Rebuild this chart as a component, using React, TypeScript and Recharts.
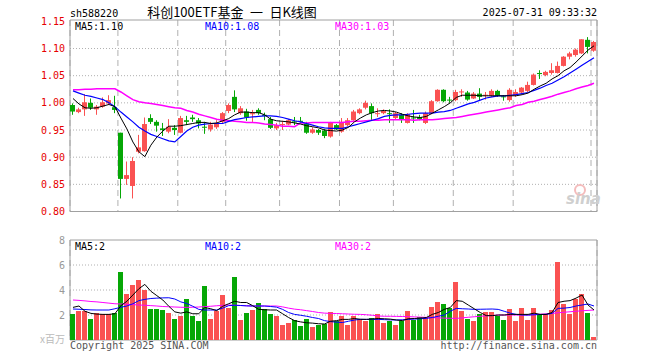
import React from "react";
import {
  ComposedChart,
  Bar,
  Line,
  XAxis,
  YAxis,
  CartesianGrid,
  ReferenceArea,
} from "recharts";

// daily candles, 2025-03-25 .. 2025-07-31 (88 trading days)
const open = [0.996,0.983,0.988,1.000,0.988,0.993,0.999,0.992,0.945,0.860,
  0.847,0.910,0.911,0.972,0.965,0.953,0.947,0.954,0.945,0.968,
  0.973,0.968,0.956,0.951,0.955,0.965,0.985,1.011,0.981,0.984,
  0.979,0.987,0.978,0.970,0.953,0.960,0.960,0.966,0.967,0.962,
  0.945,0.950,0.949,0.938,0.959,0.947,0.959,0.968,0.981,0.991,
  0.994,0.980,0.981,0.981,0.972,0.978,0.963,0.973,0.974,0.963,
  0.981,1.003,1.024,1.006,1.005,1.020,1.019,1.008,1.017,1.014,
  1.013,1.022,1.012,1.005,1.014,1.019,1.022,1.033,1.055,1.051,
  1.055,1.055,1.068,1.085,1.088,1.091,1.116,1.096];
const high = [0.999,0.991,1.016,1.008,0.996,1.010,1.014,1.013,0.945,0.892,
  0.900,0.941,0.973,0.979,0.968,0.963,0.970,0.959,0.976,0.976,
  0.978,0.972,0.965,0.965,0.968,0.983,0.999,1.023,0.994,0.989,
  0.987,0.990,0.982,0.974,0.963,0.967,0.970,0.974,0.974,0.965,
  0.955,0.952,0.952,0.965,0.961,0.972,0.972,0.987,0.990,1.004,
  0.999,0.990,0.988,0.988,0.983,0.981,0.981,0.987,0.978,0.984,
  1.005,1.025,1.025,1.011,1.024,1.025,1.022,1.020,1.027,1.020,
  1.025,1.024,1.014,1.027,1.025,1.029,1.039,1.054,1.060,1.059,
  1.073,1.076,1.086,1.094,1.100,1.117,1.121,1.114];
const low = [0.978,0.981,0.976,0.987,0.978,0.991,0.996,0.981,0.824,0.849,
  0.824,0.907,0.910,0.961,0.947,0.939,0.944,0.941,0.944,0.959,
  0.965,0.953,0.943,0.947,0.952,0.963,0.981,0.983,0.978,0.967,
  0.965,0.978,0.968,0.952,0.950,0.950,0.959,0.959,0.962,0.943,
  0.943,0.941,0.935,0.936,0.950,0.945,0.957,0.967,0.979,0.988,
  0.968,0.974,0.979,0.963,0.970,0.963,0.962,0.963,0.968,0.961,
  0.979,1.002,1.001,1.000,1.003,1.011,1.004,1.007,1.004,1.006,
  1.011,1.011,1.004,1.002,1.011,1.017,1.020,1.032,1.044,1.049,
  1.052,1.054,1.067,1.080,1.085,1.090,1.091,1.094];
const close = [0.984,0.988,1.001,0.991,0.993,1.001,1.005,0.987,0.860,0.867,
  0.893,0.918,0.961,0.965,0.958,0.950,0.956,0.950,0.972,0.965,
  0.970,0.962,0.955,0.960,0.961,0.981,0.996,0.988,0.990,0.973,
  0.981,0.981,0.976,0.954,0.959,0.961,0.968,0.964,0.965,0.945,
  0.951,0.945,0.939,0.963,0.951,0.965,0.968,0.984,0.988,1.000,
  0.981,0.981,0.985,0.980,0.981,0.970,0.979,0.972,0.970,0.981,
  1.003,1.024,1.003,1.005,1.020,1.021,1.006,1.017,1.011,1.015,
  1.022,1.013,1.011,1.024,1.020,1.028,1.033,1.052,1.053,1.057,
  1.060,1.068,1.085,1.091,1.098,1.117,1.103,1.112];

// moving averages as drawn on the chart
const ma5 = [1.008,0.998,0.991,0.990,0.991,0.994,0.997,0.993,0.972,0.952,
  0.928,0.910,0.901,0.922,0.937,0.948,0.957,0.957,0.958,0.960,
  0.962,0.964,0.964,0.962,0.963,0.967,0.971,0.978,0.983,0.983,
  0.982,0.982,0.978,0.970,0.967,0.966,0.965,0.963,0.961,0.958,
  0.956,0.954,0.950,0.949,0.948,0.950,0.955,0.965,0.972,0.978,
  0.982,0.985,0.986,0.985,0.983,0.979,0.976,0.974,0.973,0.975,
  0.981,0.987,0.993,1.000,1.010,1.014,1.014,1.014,1.013,1.013,
  1.013,1.013,1.013,1.013,1.013,1.015,1.018,1.025,1.031,1.036,
  1.044,1.050,1.059,1.065,1.075,1.086,1.097,1.105];
const ma10 = [1.022,1.018,1.014,1.012,1.009,1.006,1.000,0.993,0.983,0.974,
  0.965,0.955,0.948,0.942,0.938,0.934,0.930,0.928,0.938,0.948,
  0.955,0.959,0.961,0.962,0.962,0.962,0.966,0.969,0.971,0.973,
  0.974,0.975,0.976,0.976,0.975,0.973,0.970,0.967,0.965,0.962,
  0.959,0.956,0.954,0.953,0.953,0.953,0.956,0.959,0.962,0.965,
  0.968,0.971,0.975,0.977,0.978,0.978,0.979,0.980,0.981,0.981,
  0.981,0.983,0.984,0.986,0.990,0.994,0.998,1.001,1.005,1.009,
  1.011,1.013,1.013,1.014,1.015,1.017,1.019,1.023,1.027,1.032,
  1.036,1.042,1.048,1.055,1.062,1.069,1.076,1.083];
const ma30 = [1.024,1.024,1.025,1.025,1.026,1.026,1.026,1.026,1.020,1.013,
  1.006,1.002,1.000,0.999,0.997,0.995,0.993,0.991,0.990,0.986,
  0.983,0.979,0.976,0.973,0.970,0.968,0.967,0.966,0.965,0.964,
  0.964,0.963,0.961,0.960,0.959,0.957,0.957,0.956,0.963,0.963,
  0.964,0.964,0.964,0.964,0.964,0.964,0.965,0.966,0.966,0.967,
  0.968,0.968,0.969,0.969,0.969,0.969,0.969,0.968,0.969,0.969,
  0.969,0.970,0.971,0.972,0.973,0.975,0.977,0.979,0.981,0.983,
  0.985,0.987,0.989,0.991,0.995,0.997,1.001,1.003,1.006,1.009,
  1.012,1.016,1.019,1.022,1.026,1.029,1.032,1.036];

// volume, millions of shares
const vol = [2.08,2.32,2.32,1.68,2.16,2.08,2.08,2.16,5.44,3.68,
  4.4,4.8,4.0,2.48,2.48,2.4,2.16,1.68,1.92,3.28,
  1.92,1.52,4.32,1.68,2.32,3.6,2.56,5.04,1.6,2.16,
  2.4,2.96,2.48,2.08,1.92,1.2,1.36,1.6,1.12,1.68,
  1.04,1.2,1.28,2.24,1.52,1.92,1.2,1.92,1.68,1.52,
  1.76,2.08,1.36,1.52,1.2,1.52,2.32,1.6,1.84,1.76,
  2.64,3.04,2.88,2.56,4.64,2.32,1.68,1.52,2.08,2.24,
  2.24,1.92,1.6,2.48,1.52,2.56,1.6,2.56,2.08,2.08,
  2.4,6.24,2.88,2.08,3.28,3.68,2.16,0.24];
const vma5 = [2.61,2.72,2.3,2.13,2.07,2.05,2.05,2.1,2.75,3.1,
  3.6,4.1,4.45,3.9,3.55,3.2,2.7,2.25,2.15,2.25,
  2.1,2.1,2.6,2.5,2.35,2.7,2.9,3.1,3.0,3.0,
  2.75,2.45,2.42,2.4,2.4,2.1,1.8,1.55,1.45,1.38,
  1.35,1.3,1.28,1.5,1.55,1.65,1.65,1.72,1.66,1.65,
  1.68,1.72,1.7,1.67,1.6,1.55,1.7,1.72,1.75,1.8,
  2.05,2.2,2.45,2.6,3.15,3.1,2.8,2.5,2.2,1.95,
  1.95,2.0,2.0,2.05,2.05,2.05,2.05,2.15,2.05,2.05,
  2.2,3.0,3.1,3.15,3.35,3.6,2.8,2.4];
const vma10 = [2.48,2.46,2.44,2.41,2.4,2.4,2.4,2.5,2.62,2.72,
  2.9,3.15,3.25,3.32,3.35,3.37,3.38,3.28,3.05,2.92,
  2.7,2.45,2.4,2.4,2.4,2.55,2.75,2.78,2.76,2.73,
  2.72,2.72,2.72,2.68,2.63,2.45,2.2,2.05,1.98,1.9,
  1.8,1.72,1.55,1.47,1.43,1.4,1.5,1.6,1.65,1.65,
  1.65,1.65,1.63,1.61,1.6,1.62,1.65,1.67,1.7,1.73,
  1.8,1.9,2.0,2.3,2.53,2.5,2.48,2.45,2.46,2.47,
  2.48,2.45,2.3,2.15,2.05,2.0,2.0,2.02,2.04,2.05,
  2.13,2.53,2.55,2.6,2.72,2.8,2.88,2.72];
const vma30 = [3.2,3.17,3.13,3.08,3.05,3.0,2.95,2.9,2.88,2.86,
  2.83,2.8,2.78,2.75,2.72,2.68,2.66,2.64,2.62,2.61,
  2.62,2.64,2.67,2.7,2.74,2.77,2.8,2.78,2.76,2.74,
  2.72,2.72,2.72,2.72,2.72,2.65,2.55,2.47,2.42,2.35,
  2.28,2.2,2.15,2.13,2.12,2.1,2.08,2.06,2.05,2.02,
  1.98,1.92,1.9,1.9,1.89,1.88,1.87,1.85,1.83,1.81,
  1.79,1.77,1.75,1.74,1.73,1.77,1.82,1.86,1.9,1.93,
  1.96,2.0,2.0,2.0,2.0,2.0,2.0,2.03,2.06,2.09,
  2.12,2.18,2.22,2.26,2.3,2.34,2.37,2.4];

const tickIdx = [8, 18, 26, 35, 45, 54, 64, 74, 87];
const tickLabels = ["2025-04-07", "04-21", "05-06", "05-19", "06-03", "06-16", "06-30", "07-14", "07-31"];
const priceTicks = [0.8, 0.85, 0.9, 0.95, 1.0, 1.05, 1.1, 1.15];
const priceGrid = [0.85, 0.9, 0.95, 1.0, 1.05, 1.1];
const volTicks = [2, 4, 6, 8];
const volGrid = [2, 4, 6];
const priceLegend = [["MA5", "1.10"], ["MA10", "1.08"], ["MA30", "1.03"]];
const volLegend = [["MA5", "2"], ["MA10", "2"], ["MA30", "2"]];

const MONO = "'DejaVu Sans Mono', monospace";
const CJK = "'Noto Sans CJK SC', sans-serif";
const RED = "#fa5252";
const GREEN = "#06a706";
const MA_COLORS = ["#000000", "#0000ff", "#ff00ff"];
const GRID = "#b0b0b0";
const BORDER = "#a0a0a0";
const N = close.length;

const rows = close.map((c, i) => ({
  i,
  open: open[i],
  high: high[i],
  low: low[i],
  close: c,
  range: [low[i], high[i]],
  up: c >= open[i],
  ma5: ma5[i],
  ma10: ma10[i],
  ma30: ma30[i],
  vol: vol[i],
  vma5: vma5[i],
  vma10: vma10[i],
  vma30: vma30[i],
}));

function Candle(props: any) {
  const { x, y, width, height, payload } = props;
  if (x == null || !payload) return null;
  const top = Math.min(y, y + height);
  const h = Math.abs(height);
  const k = payload.high > payload.low ? h / (payload.high - payload.low) : 0;
  const color = payload.up ? RED : GREEN;
  const bodyTop = top + (payload.high - Math.max(payload.open, payload.close)) * k;
  const bodyH = Math.max(1, Math.abs(payload.open - payload.close) * k);
  const left = Math.round(x);
  const cx = left + width / 2;
  return (
    <g>
      <line x1={cx} x2={cx} y1={top} y2={top + h} stroke={color} strokeWidth={1} />
      <rect x={left} y={bodyTop} width={width} height={bodyH} fill={color} />
    </g>
  );
}

function VolBar(props: any) {
  const { x, y, width, height, payload } = props;
  if (x == null || !payload) return null;
  return <rect x={Math.round(x)} y={y} width={width} height={Math.max(0, height)} fill={payload.up ? RED : GREEN} />;
}

function DateTick(props: any) {
  const { x, y, payload } = props;
  const k = tickIdx.indexOf(payload.value);
  const last = k === tickIdx.length - 1;
  return (
    <text x={last ? x - 1 : x} y={y + 13} textAnchor={last ? "end" : "middle"} fill="#1a86d0" fontSize={10} fontFamily={MONO}>
      {tickLabels[k]}
    </text>
  );
}

function PriceTick(props: any) {
  const { x, y, payload } = props;
  return (
    <text x={x - 5} y={y + 3.5} textAnchor="end" fill="#e60000" fontSize={10} fontFamily={MONO}>
      {Number(payload.value).toFixed(2)}
    </text>
  );
}

function VolTick(props: any) {
  const { x, y, payload } = props;
  return (
    <text x={x - 5} y={y + 3.5} textAnchor="end" fill="#999999" fontSize={10} fontFamily={MONO}>
      {payload.value}
    </text>
  );
}

function Legend({ items, y }: { items: string[][]; y: number }) {
  const xs = [75, 205, 335];
  return (
    <>
      {items.map((it, k) => (
        <text key={it[0]} x={xs[k]} y={y} fill={MA_COLORS[k]} fontSize={10} fontFamily={MONO}>
          {`${it[0]}:${it[1]}`}
        </text>
      ))}
    </>
  );
}

export default function App() {
  return (
    <div style={{ position: "absolute", left: 0, top: 0, width: 660, height: 360, background: "#fff", overflow: "hidden" }}>
      <div style={{ position: "absolute", left: 0, top: 0 }}>
        <ComposedChart width={660} height={236} data={rows} margin={{ top: 20, right: 63, bottom: 0, left: 0 }}>
          <XAxis xAxisId="cat" dataKey="i" type="category" hide />
          <XAxis
            xAxisId="num"
            dataKey="i"
            type="number"
            domain={[0, N]}
            ticks={tickIdx}
            interval={0}
            allowDataOverflow
            axisLine={false}
            tickLine={false}
            tickSize={0}
            tickMargin={0}
            height={24.5}
            tick={<DateTick />}
          />
          <YAxis
            domain={[0.8, 1.1525]}
            ticks={priceTicks}
            interval={0}
            allowDataOverflow
            width={70}
            axisLine={false}
            tickLine={false}
            tickSize={0}
            tickMargin={0}
            tick={<PriceTick />}
          />
          <CartesianGrid xAxisId="num" vertical={false} horizontalValues={priceGrid} stroke={GRID} strokeDasharray="1 2" />
          <CartesianGrid xAxisId="num" horizontal={false} stroke={GRID} strokeDasharray="6 4" />
          <ReferenceArea xAxisId="num" x1={0} x2={N} y1={0.8} y2={1.1525} fill="none" stroke={BORDER} ifOverflow="visible" />
          <Bar xAxisId="cat" dataKey="range" barSize={5} shape={<Candle />} isAnimationActive={false} />
          <Line xAxisId="cat" dataKey="ma30" stroke={MA_COLORS[2]} strokeWidth={1.5} dot={false} activeDot={false} isAnimationActive={false} />
          <Line xAxisId="cat" dataKey="ma10" stroke={MA_COLORS[1]} strokeWidth={1.2} dot={false} activeDot={false} isAnimationActive={false} />
          <Line xAxisId="cat" dataKey="ma5" stroke={MA_COLORS[0]} strokeWidth={1} dot={false} activeDot={false} isAnimationActive={false} />
        </ComposedChart>
      </div>
      <div style={{ position: "absolute", left: 0, top: 236 }}>
        <ComposedChart width={660} height={108} data={rows} margin={{ top: 4, right: 63, bottom: 4, left: 0 }}>
          <XAxis xAxisId="cat" dataKey="i" type="category" hide />
          <XAxis
            xAxisId="num"
            dataKey="i"
            type="number"
            domain={[0, N]}
            ticks={tickIdx}
            interval={0}
            allowDataOverflow
            axisLine={false}
            tickLine={false}
            tick={false}
            height={0}
          />
          <YAxis
            domain={[0, 8]}
            ticks={volTicks}
            interval={0}
            allowDataOverflow
            width={70}
            axisLine={false}
            tickLine={false}
            tickSize={0}
            tickMargin={0}
            tick={<VolTick />}
          />
          <CartesianGrid xAxisId="num" vertical={false} horizontalValues={volGrid} stroke={GRID} strokeDasharray="1 2" />
          <CartesianGrid xAxisId="num" horizontal={false} stroke={GRID} strokeDasharray="6 4" />
          <ReferenceArea xAxisId="num" x1={0} x2={N} y1={0} y2={8} fill="none" stroke={BORDER} ifOverflow="visible" />
          <Bar xAxisId="cat" dataKey="vol" barSize={5} shape={<VolBar />} isAnimationActive={false} />
          <Line xAxisId="cat" dataKey="vma30" stroke={MA_COLORS[2]} strokeWidth={1} dot={false} activeDot={false} isAnimationActive={false} />
          <Line xAxisId="cat" dataKey="vma10" stroke={MA_COLORS[1]} strokeWidth={1} dot={false} activeDot={false} isAnimationActive={false} />
          <Line xAxisId="cat" dataKey="vma5" stroke={MA_COLORS[0]} strokeWidth={1} dot={false} activeDot={false} isAnimationActive={false} />
        </ComposedChart>
      </div>
      <svg width={660} height={360} style={{ position: "absolute", left: 0, top: 0, pointerEvents: "none" }}>
        <text x={70} y={16.5} fontSize={10} fontFamily={MONO} fill="#000">sh588220</text>
        <text x={232} y={17} textAnchor="middle" fontSize={13} fontFamily={CJK} fill="#000">{"科创100ETF基金\u2002一\u2002日K线图"}</text>
        <text x={597} y={16} textAnchor="end" fontSize={10} fontFamily={MONO} fill="#000">2025-07-31 09:33:32</text>
        <Legend items={priceLegend} y={29.5} />
        <Legend items={volLegend} y={250} />
        <circle cx={580} cy={190} r={5} fill="none" stroke="#f4bcbc" strokeWidth={2} />
        <text x={566} y={204} fontSize={15} fontStyle="italic" fontWeight="bold" fontFamily="'DejaVu Sans', sans-serif" fill="#cfcfcf">sina</text>
        <text x={65} y={343} textAnchor="end" fontSize={10} fontFamily={CJK} fill="#bbbbbb">x百万</text>
        <text x={70} y={349} fontSize={10} fontFamily={MONO} fill="#555">Copyright 2025 SINA.COM</text>
        <text x={597} y={349} textAnchor="end" fontSize={10} fontFamily={MONO} fill="#555">http://finance.sina.com.cn</text>
      </svg>
    </div>
  );
}
